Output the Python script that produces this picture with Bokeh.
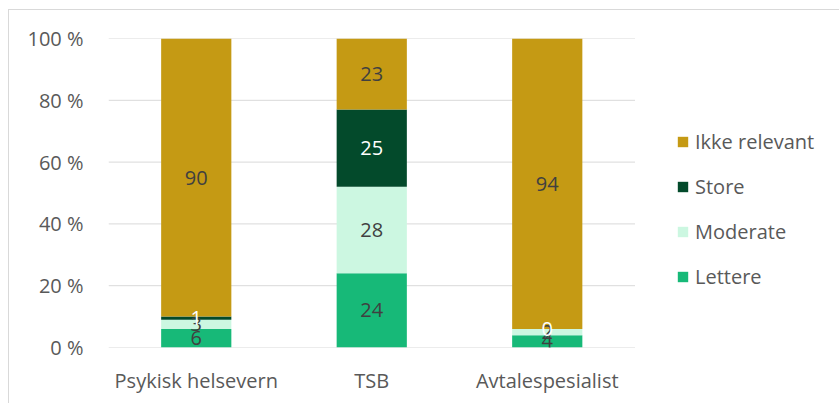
from bokeh.plotting import figure
from bokeh.models import ColumnDataSource, Legend, LegendItem, FixedTicker, LabelSet
from bokeh.core.properties import value
from bokeh.embed import file_html
from bokeh.resources import INLINE

categories = ["Psykisk helsevern", "TSB", "Avtalespesialist"]
series = ["Lettere", "Moderate", "Store", "Ikke relevant"]
lettere = [6, 24, 4]
moderate = [3, 28, 2]
store = [1, 25, 0]
ikke_relevant = [90, 23, 94]
colors = ["#17B978", "#CCF7E1", "#034A2B", "#C59A14"]
label_colors = ["#404040", "#404040", "#FFFFFF", "#404040"]
y_ticks = [0, 20, 40, 60, 80, 100]

FONT = "Open Sans"
TEXT = "#595959"
GRID = "#D9D9D9"
SIZE = "20px"

# category slots sit at 0.5, 1.5, 2.5; the frame runs on to the right
# so the legend can live beside the bars
xpos = [i + 0.5 for i in range(len(categories))]
W, H = 831, 394
LEFT, RIGHT, TOP, BOTTOM = 99, 0, 28, 57
slot_px = 175.5
x_end = (W - LEFT - RIGHT) / slot_px

data = {"x": xpos, "Lettere": lettere, "Moderate": moderate,
        "Store": store, "Ikke relevant": ikke_relevant}
source = ColumnDataSource(data)

p = figure(x_range=(0, x_end), y_range=(0, 100), width=W, height=H,
           output_backend="svg", toolbar_location=None,
           min_border_left=LEFT, min_border_right=RIGHT,
           min_border_top=TOP, min_border_bottom=BOTTOM)
p.margin = (9, 0, 0, 8)
p.styles = {"border-left": "1px solid #D9D9D9", "border-top": "1px solid #D9D9D9"}
p.outline_line_color = None
p.background_fill_color = "white"
p.border_fill_color = "white"

# horizontal gridlines over the category area only
n = len(categories)
p.segment(x0=[0] * len(y_ticks), x1=[n] * len(y_ticks), y0=y_ticks, y1=y_ticks,
          line_color=GRID, line_width=1)

renderers = p.vbar_stack(series, x="x", width=0.4, source=source,
                         color=colors, line_color=None)

# segment labels at the middle of each stacked piece
base = [0] * n
vals_by_series = [lettere, moderate, store, ikke_relevant]
for vals, col in zip(vals_by_series, label_colors):
    mids = [b + v / 2 for b, v in zip(base, vals)]
    lsrc = ColumnDataSource({"x": xpos, "y": mids,
                             "t": [str(v) for v in vals]})
    p.add_layout(LabelSet(x="x", y="y", text="t", source=lsrc,
                          text_align="center", text_baseline="middle",
                          text_color=col, text_font=value(FONT),
                          text_font_size=value(SIZE)))
    base = [b + v for b, v in zip(base, vals)]

p.xgrid.grid_line_color = None
p.ygrid.grid_line_color = None

p.yaxis.ticker = FixedTicker(ticks=y_ticks)
p.yaxis.major_label_overrides = {t: f"{t} %" for t in y_ticks}
p.yaxis.axis_line_color = None
p.yaxis.major_tick_line_color = None
p.yaxis.minor_tick_line_color = None
p.yaxis.major_label_standoff = 19

p.xaxis.ticker = FixedTicker(ticks=xpos)
p.xaxis.major_label_overrides = {x: c for x, c in zip(xpos, categories)}
p.xaxis.axis_line_color = None
p.xaxis.major_tick_line_color = None
p.xaxis.minor_tick_line_color = None
p.xaxis.major_label_standoff = 13

for ax in (p.xaxis, p.yaxis):
    ax.major_label_text_font = FONT
    ax.major_label_text_font_size = SIZE
    ax.major_label_text_color = TEXT

items = [LegendItem(label=s, renderers=[r])
         for s, r in reversed(list(zip(series, renderers)))]
legend = Legend(items=items, location=(568, 57), orientation="vertical",
                glyph_width=13, glyph_height=13, label_height=20,
                spacing=18, padding=0, margin=0, label_standoff=6,
                border_line_color=None, background_fill_alpha=0,
                label_text_font=FONT, label_text_font_size=SIZE,
                label_text_color=TEXT)
p.add_layout(legend, "center")

open("out.html", "w").write(file_html(p, INLINE))
